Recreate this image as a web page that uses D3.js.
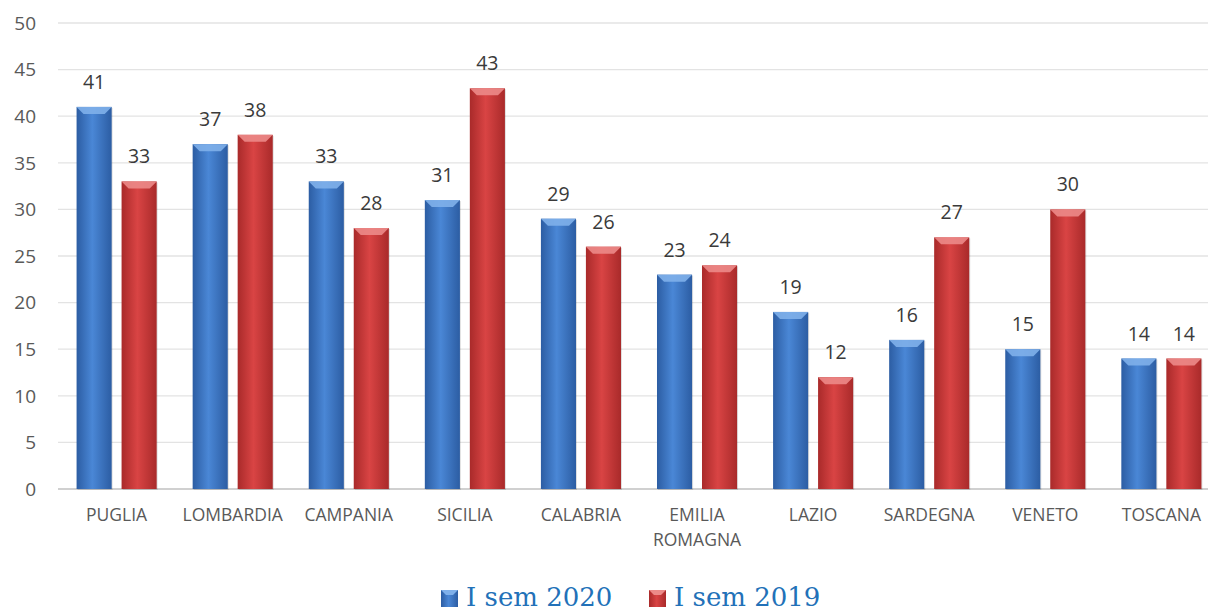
<!DOCTYPE html>
<html><head><meta charset="utf-8">
<script src="https://cdn.jsdelivr.net/npm/d3@7"></script>
<style>body{margin:0;background:#fff}svg{display:block}</style>
</head><body>
<svg id="c" width="1208" height="612"></svg>
<script>
const categories = ["PUGLIA","LOMBARDIA","CAMPANIA","SICILIA","CALABRIA","EMILIA ROMAGNA","LAZIO","SARDEGNA","VENETO","TOSCANA"];
const series2020 = [41,37,33,31,29,23,19,16,15,14];
const series2019 = [33,38,28,43,26,24,12,27,30,14];
const seriesNames = ["I sem 2020","I sem 2019"];
const yTicks = [0,5,10,15,20,25,30,35,40,45,50];

const svg = d3.select("#c");
const W = 1208, H = 612;
const m = {l:58, r:-12, t:23, b:123};
const x = d3.scaleBand().domain(categories).range([m.l, W - m.r]).paddingInner(0.31).paddingOuter(0.16);
const x1 = d3.scaleBand().domain([0,1]).range([0, x.bandwidth()]).paddingInner(0.22);
const y = d3.scaleLinear().domain([0,50]).range([H - m.b, m.t]);

const defs = svg.append("defs");
function grad(id, edge, mid){
  const g = defs.append("linearGradient").attr("id", id).attr("x1","0").attr("x2","1").attr("y1","0").attr("y2","0");
  g.append("stop").attr("offset","0").attr("stop-color", edge);
  g.append("stop").attr("offset","0.45").attr("stop-color", mid);
  g.append("stop").attr("offset","1").attr("stop-color", edge);
}
grad("gb", "#2c5da3", "#4a87d6");
grad("gr", "#a92a2a", "#d94444");
const fills = ["url(#gb)","url(#gr)"];
const tops = ["#7fb0ea","#ec8a88"];

// gridlines
svg.append("g").selectAll("line").data(yTicks).join("line")
  .attr("x1", m.l).attr("x2", W)
  .attr("y1", d => y(d)).attr("y2", d => y(d))
  .attr("stroke", d => d === 0 ? "#d0d0d0" : "#e3e3e3").attr("stroke-width", d => d===0?2:1.3);

// y tick labels
svg.append("g").selectAll("text").data(yTicks).join("text")
  .attr("x", 36).attr("y", d => y(d)).attr("dy","0.36em")
  .attr("text-anchor","end").attr("font-family","Open Sans, sans-serif").attr("font-size",19).attr("fill","#595959")
  .text(d => d);

const data = categories.map((c,i) => ({c, v:[series2020[i], series2019[i]]}));
const g = svg.append("g");
data.forEach(d => {
  d.v.forEach((v, s) => {
    const bx = x(d.c) + x1(s), bw = x1.bandwidth(), by = y(v), bh = y(0) - y(v);
    g.append("rect").attr("x", bx+1).attr("y", by+1).attr("width", bw).attr("height", bh).attr("fill","#000").attr("opacity",0.12);
    g.append("rect").attr("x", bx).attr("y", by).attr("width", bw).attr("height", bh).attr("fill", fills[s]);
    const bev = 7;
    g.append("polygon").attr("points", [[bx,by],[bx+bw,by],[bx+bw-bev,by+bev],[bx+bev,by+bev]].map(p=>p.join(",")).join(" "))
      .attr("fill", tops[s]).attr("opacity",0.9);
    g.append("text").attr("x", bx + bw/2).attr("y", by - 18)
      .attr("text-anchor","middle").attr("font-family","Open Sans, sans-serif").attr("font-size",19.5).attr("fill","#3a3a3a")
      .text(v);
  });
});

// category labels
const cl = svg.append("g");
categories.forEach(c => {
  const words = c === "EMILIA ROMAGNA" ? ["EMILIA","ROMAGNA"] : [c];
  const t = cl.append("text").attr("x", x(c) + x.bandwidth()/2).attr("y", 521)
    .attr("text-anchor","middle").attr("font-family","Open Sans, sans-serif").attr("font-size",17.5).attr("fill","#595959");
  words.forEach((w,i) => t.append("tspan").attr("x", x(c) + x.bandwidth()/2).attr("dy", i===0?0:25).text(w));
});

// legend
const leg = svg.append("g");
const lx = [441, 649];
seriesNames.forEach((n,i) => {
  leg.append("rect").attr("x", lx[i]).attr("y", 590).attr("width", 17).attr("height", 17).attr("fill", fills[i]);
  leg.append("polygon").attr("points", `${lx[i]},590 ${lx[i]+17},590 ${lx[i]+12},595 ${lx[i]+5},595`).attr("fill", tops[i]);
  leg.append("text").attr("x", lx[i] + 25).attr("y", 606).attr("font-family","DejaVu Serif, serif").attr("font-size",26).attr("fill","#2271b8").text(n);
});
</script>
</body></html>
